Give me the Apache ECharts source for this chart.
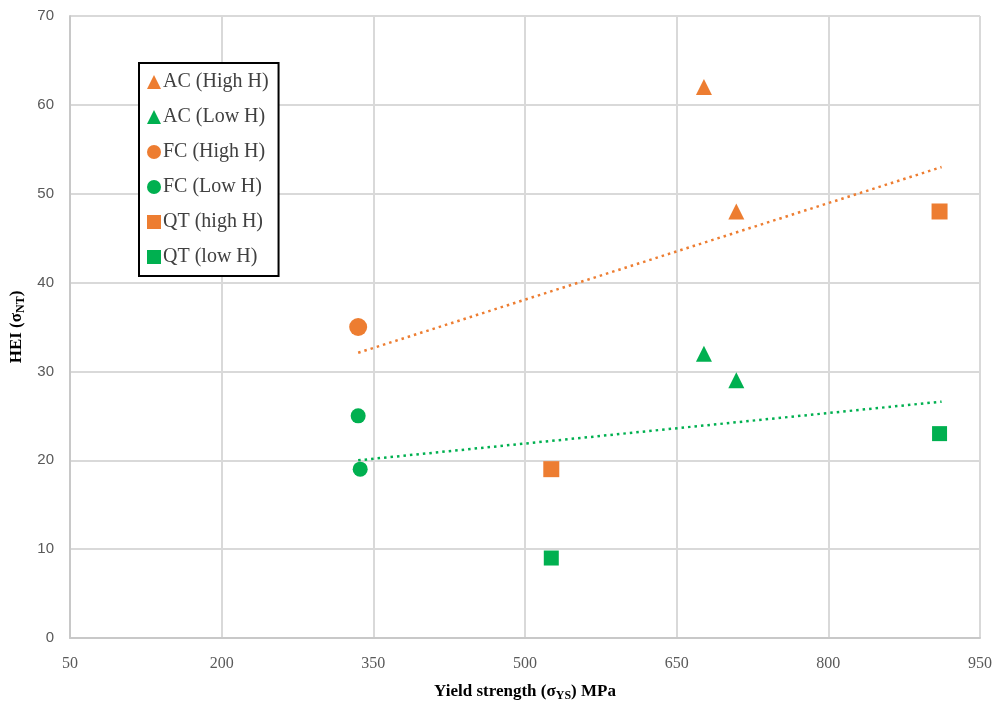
<!DOCTYPE html>
<html><head><meta charset="utf-8">
<script src="https://cdn.jsdelivr.net/npm/echarts@6/dist/echarts.min.js"></script>
<style>html,body{margin:0;padding:0;background:#fff}#c{width:995px;height:703px}</style>
</head><body><div id="c"></div>
<script>
const xTicks = [50, 200, 350, 500, 650, 800, 950];
const yTicks = [0, 10, 20, 30, 40, 50, 60, 70];
const acHigh = [[677, 62], [709, 48]];
const acLow = [[677, 32], [709, 29]];
const fcHigh = [[335, 35]];
const fcLow = [[335, 25], [337, 19]];
const qtHigh = [[526, 19], [910, 48]];
const qtLow = [[526, 9], [910, 23]];
const trendHigh = [[335, 32.1], [912, 53.0]];
const trendLow = [[335, 20.0], [912, 26.6]];
const names = ['AC (High H)', 'AC (Low H)', 'FC (High H)', 'FC (Low H)', 'QT (high H)', 'QT (low H)'];

const ORANGE = '#ED7D31', GREEN = '#00B050';
const chart = echarts.init(document.getElementById('c'));
function sc(name, data, symbol, size, color) {
  return {name, type: 'scatter', data, symbol, symbolSize: size, itemStyle: {color, opacity: 1}, z: 3};
}
chart.setOption({
  animation: false,
  grid: {left: 70, right: 15, top: 16, bottom: 65, containLabel: false, outerBoundsMode: 'none'},
  legend: {
    data: names, orient: 'vertical', left: 139, top: 63,
    borderColor: '#000', borderWidth: 2, backgroundColor: '#fff',
    padding: [9, 10, 9, 8], itemGap: 15, itemWidth: 14, itemHeight: 14,
    textStyle: {fontFamily: 'Liberation Serif', fontSize: 20, color: '#404040', lineHeight: 20, padding: [0, 0, 0, -3]}
  },
  xAxis: {
    type: 'value', min: 50, max: 950, interval: 150,
    axisLine: {show: true, lineStyle: {color: '#c8c8c8', width: 2}},
    axisTick: {show: false},
    splitLine: {lineStyle: {color: '#d9d9d9', width: 2}},
    axisLabel: {fontFamily: 'Liberation Serif', fontSize: 16, color: '#595959', margin: 18,
      formatter: v => xTicks.includes(v) ? String(v) : ''},
    name: '{b|Yield strength (σ}{s|YS}{b|) MPa}', nameLocation: 'middle', nameGap: 44,
    nameTextStyle: {rich: {
      b: {fontFamily: 'Liberation Serif', fontWeight: 'bold', fontSize: 17, color: '#000'},
      s: {fontFamily: 'Liberation Serif', fontWeight: 'bold', fontSize: 12, color: '#000', padding: [8, 0, 0, 0]}
    }}
  },
  yAxis: {
    type: 'value', min: 0, max: 70, interval: 10,
    axisLine: {show: true, lineStyle: {color: '#c8c8c8', width: 2}},
    axisTick: {show: false},
    splitLine: {lineStyle: {color: '#d9d9d9', width: 2}},
    axisLabel: {fontFamily: 'Liberation Sans', fontSize: 15, color: '#595959', margin: 16,
      formatter: v => yTicks.includes(v) ? String(v) : ''},
    name: '{b|HEI (σ}{s|NT}{b|)}', nameLocation: 'middle', nameGap: 42, nameRotate: 90,
    nameTextStyle: {rich: {
      b: {fontFamily: 'Liberation Serif', fontWeight: 'bold', fontSize: 17, color: '#000'},
      s: {fontFamily: 'Liberation Serif', fontWeight: 'bold', fontSize: 12, color: '#000', padding: [8, 0, 0, 0]}
    }}
  },
  series: [
    {type: 'line', data: trendHigh, symbol: 'none', lineStyle: {color: ORANGE, width: 2.5, type: [2.5, 4]}, z: 2, silent: true},
    {type: 'line', data: trendLow, symbol: 'none', lineStyle: {color: GREEN, width: 2.5, type: [2.5, 4]}, z: 2, silent: true},
    sc(names[0], acHigh, 'triangle', 16, ORANGE),
    sc(names[1], acLow, 'triangle', 16, GREEN),
    sc(names[2], fcHigh, 'circle', 18, ORANGE),
    sc(names[3], fcLow, 'circle', 15, GREEN),
    sc(names[4], qtHigh, 'rect', 16, ORANGE),
    sc(names[5], qtLow, 'rect', 15, GREEN)
  ]
});
</script></body></html>
